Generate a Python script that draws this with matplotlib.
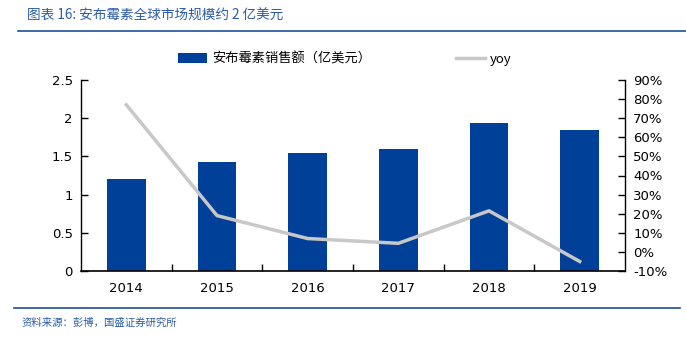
import matplotlib
matplotlib.use("Agg")
import matplotlib.pyplot as plt
import numpy as np

years = ["2014", "2015", "2016", "2017", "2018", "2019"]
sales = [1.20, 1.43, 1.54, 1.60, 1.94, 1.85]
yoy = [77.0, 19.0, 7.0, 4.5, 21.5, -5.0]

title = "图表 16: 安布霉素全球市场规模约 2 亿美元"
source = "资料来源：彭博，国盛证券研究所"
bar_label = "安布霉素销售额（亿美元）"

plt.rcParams['font.family'] = ['Noto Sans CJK SC', 'DejaVu Sans']
blue = "#004098"
grey = "#c8c8c8"
txt_blue = "#2a5caa"

fig = plt.figure(figsize=(6.86, 3.38), dpi=100)
ax = fig.add_axes([81/686, 1-271/338, 544/686, 191/338])
x = np.arange(len(years))
ax.bar(x, sales, width=0.43, color=blue, zorder=2, label=bar_label)
ax.set_xlim(-0.5, 5.5)
ax.set_ylim(0, 2.5)
ax.set_yticks([0, 0.5, 1, 1.5, 2, 2.5])
ax.set_yticklabels(["0", "0.5", "1", "1.5", "2", "2.5"], family="DejaVu Sans", fontsize=9.5)
ax.set_xticks(x)
ax.set_xticklabels(years, family="DejaVu Sans", fontsize=9.5)
ax.set_xticks(np.arange(0.5, 5.5, 1), minor=True)
ax.tick_params(axis='x', which='major', length=0, pad=8)
ax.tick_params(axis='x', which='minor', direction='in', length=5, width=1)
ax.tick_params(axis='y', direction='in', length=5, width=1, pad=6)
for s in ['top', 'right']:
    ax.spines[s].set_visible(False)
ax.spines['left'].set_linewidth(1)
ax.spines['bottom'].set_linewidth(1.2)

ax2 = ax.twinx()
ax2.plot(x, yoy, color=grey, lw=2.5, zorder=3, label="yoy")
ax2.set_ylim(-10, 90)
ax2.set_yticks(np.arange(-10, 91, 10))
ax2.set_yticklabels([f"{v}%" for v in range(-10, 91, 10)], family="DejaVu Sans", fontsize=9.5)
ax2.tick_params(axis='y', direction='in', length=5, width=1, pad=6)
ax2.spines['top'].set_visible(False)
ax2.spines['left'].set_visible(False)
ax2.spines['bottom'].set_visible(False)
ax2.spines['right'].set_linewidth(1)

h1, l1 = ax.get_legend_handles_labels()
h2, l2 = ax2.get_legend_handles_labels()
fig.legend(h1 + h2, l1 + l2, loc='center left', bbox_to_anchor=(178/686, 1-59/338), ncol=2,
           frameon=False, fontsize=9.5, columnspacing=6.4, handlelength=2.2, handletextpad=0.4,
           borderpad=0, borderaxespad=0)

fig.text(27/686, 1-16/338, title, color=txt_blue, fontsize=9.8, style='italic', va='center')
fig.add_artist(plt.Line2D([18/686, 1], [1-31/338, 1-31/338], color="#1f4e9c", lw=1.2))
fig.add_artist(plt.Line2D([14/686, 680/686], [1-308/338, 1-308/338], color="#1f4e9c", lw=1.2))
fig.text(22/686, 1-323/338, source, color=txt_blue, fontsize=7.5, style='italic', va='center')

fig.savefig("out.png", dpi=100)
